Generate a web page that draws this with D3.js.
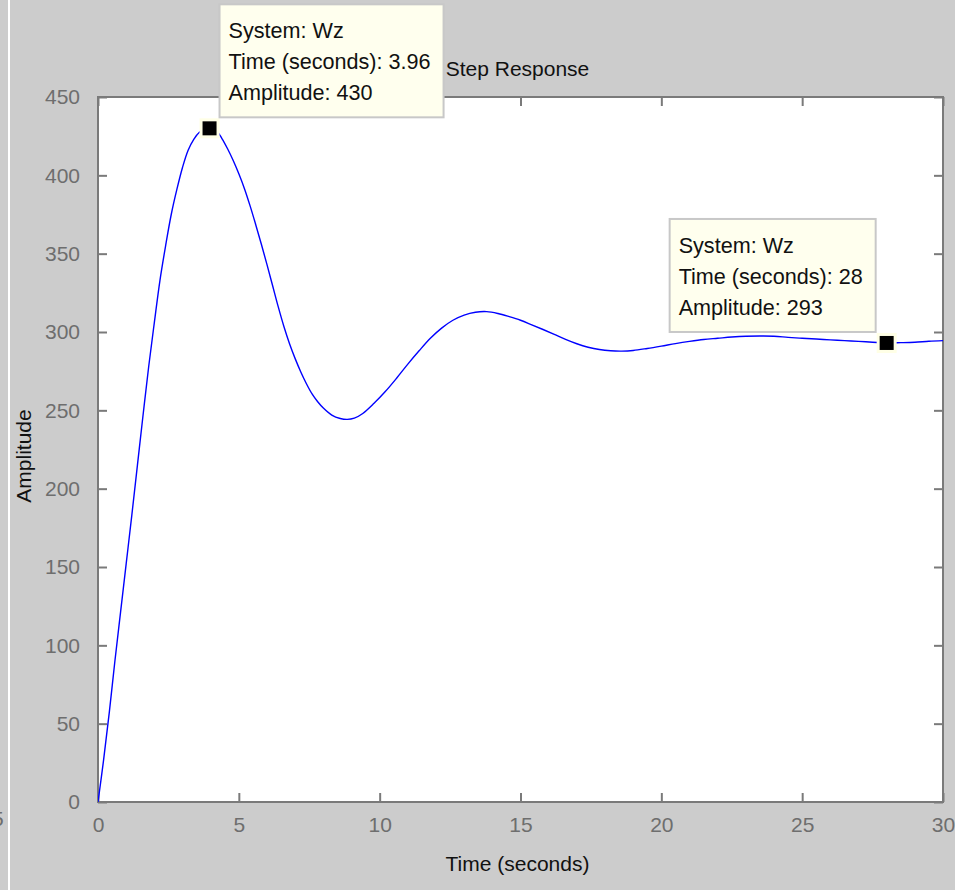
<!DOCTYPE html>
<html lang="en">
<head>
    <meta charset="UTF-8">
    <title>Step Response</title>
    <style>
        body {
            margin: 0;
            background: #cccccc;
            font-family: "Liberation Sans", Arial, sans-serif;
        }
        svg text {
            font-family: "Liberation Sans", Arial, sans-serif;
        }
    </style>
    <script src="https://d3js.org/d3.v7.min.js"></script>
</head>
<body>
    <div id="chart"></div>

    <script>
        // step response of system Wz
        const time = [0, 0.2, 0.4, 0.6, 0.8, 1.0, 1.2, 1.4, 1.6, 1.8, 2.0, 2.2, 2.4, 2.6, 2.8, 3.0,
            3.2, 3.4, 3.6, 3.8, 3.96, 4.2, 4.4, 4.6, 4.8, 5.0, 5.2, 5.4, 5.6, 5.8, 6.0, 6.2, 6.4,
            6.6, 6.8, 7.0, 7.2, 7.4, 7.6, 7.8, 8.0, 8.3, 8.6, 8.85, 9.1, 9.4, 9.8, 10.2, 10.6, 11.0,
            11.4, 11.8, 12.2, 12.6, 13.0, 13.4, 13.8, 14.2, 14.6, 15.0, 15.4, 15.8, 16.2, 16.6,
            17.0, 17.4, 17.8, 18.2, 18.6, 19.0, 19.5, 20.0, 20.5, 21.0, 21.5, 22.0, 22.5, 23.0,
            23.5, 24.0, 24.5, 25.0, 25.5, 26.0, 26.5, 27.0, 27.5, 28.0, 28.5, 29.0, 29.5, 30];
        const amplitude = [0, 27, 57, 90, 121, 152, 183, 215, 247, 278, 306, 333, 355, 375, 391, 405,
            416, 423, 427.5, 429.5, 430, 428.5, 423.5, 417, 409.5, 401, 391.5, 380.5, 368.5, 356, 343, 329.5, 316,
            303.5, 292.5, 283, 274.5, 267, 260.5, 255.5, 251.5, 247, 244.8, 244.2, 245, 248, 254.5, 262, 270.5, 279.5,
            288, 296, 302.5, 307.5, 310.8, 312.6, 313, 311.8, 309.8, 307.5, 304.6, 301.6, 298.5, 295.3,
            292.5, 290.3, 288.8, 288, 287.8, 288.2, 289.5, 291, 292.6, 294, 295.2, 296, 296.8, 297.3,
            297.4, 297.3, 296.6, 296, 295.5, 295, 294.5, 294, 293.5, 293, 293.2, 293.5, 294.1, 294.5];

        const xTicks = [0, 5, 10, 15, 20, 25, 30];
        const yTicks = [0, 50, 100, 150, 200, 250, 300, 350, 400, 450];

        // data tips shown on the figure
        const tipTimes = [3.96, 28];
        const tipAmps = [430, 293];
        const tipLabels = ["3.96", "28"];
        const tipSide = ["right", "left"];

        const W = 955, H = 890;
        const margin = {top: 97, right: 12, bottom: 88, left: 98};
        const width = W - margin.left - margin.right;
        const height = H - margin.top - margin.bottom;
        const fontSize = 21;
        const tipFont = 21.6;
        const axisColor = "#7a7a7a";
        const tickColor = "#6e6e6e";

        const svg = d3.select("#chart")
            .append("svg")
            .attr("width", W)
            .attr("height", H);

        // white stripe and clipped leftover label at the far left
        svg.append("rect").attr("x", 8).attr("y", 0).attr("width", 2).attr("height", H).attr("fill", "#ffffff");
        svg.append("text").attr("x", -8).attr("y", 826).attr("font-size", fontSize)
            .attr("fill", tickColor).text("5");

        const g = svg.append("g").attr("transform", `translate(${margin.left},${margin.top})`);

        const x = d3.scaleLinear().domain([0, 30]).range([0, width]);
        const y = d3.scaleLinear().domain([0, 450]).range([height, 0]);

        g.append("rect")
            .attr("width", width)
            .attr("height", height)
            .attr("fill", "#ffffff");

        // inward ticks on all four sides
        const tickLen = 9;
        function styleAxis(sel, showLabels) {
            sel.select(".domain").remove();
            sel.selectAll(".tick line").attr("stroke", axisColor).attr("stroke-width", 2);
            sel.selectAll(".tick text")
                .attr("fill", tickColor)
                .attr("font-size", fontSize)
                .style("display", showLabels ? null : "none");
        }

        g.append("g")
            .attr("transform", `translate(0,${height})`)
            .call(d3.axisBottom(x).tickValues(xTicks).tickSize(-tickLen).tickPadding(tickLen + 21).tickFormat(d3.format("d")))
            .call(a => styleAxis(a, true));
        g.selectAll(".tick text").attr("dy", 0);

        g.append("g")
            .call(d3.axisTop(x).tickValues(xTicks).tickSize(-tickLen))
            .call(a => styleAxis(a, false));

        g.append("g")
            .call(d3.axisLeft(y).tickValues(yTicks).tickSize(-tickLen).tickPadding(tickLen + 9).tickFormat(d3.format("d")))
            .call(a => styleAxis(a, true));

        g.append("g")
            .attr("transform", `translate(${width},0)`)
            .call(d3.axisRight(y).tickValues(yTicks).tickSize(-tickLen))
            .call(a => styleAxis(a, false));

        // box
        g.append("rect")
            .attr("width", width)
            .attr("height", height)
            .attr("fill", "none")
            .attr("stroke", axisColor)
            .attr("stroke-width", 2);

        g.append("clipPath").attr("id", "clip")
            .append("rect").attr("width", width).attr("height", height);

        const pts = time.map((t, i) => [t, amplitude[i]]);
        const line = d3.line()
            .x(d => x(d[0]))
            .y(d => y(d[1]))
            .curve(d3.curveCatmullRom.alpha(0.5));

        g.append("path")
            .datum(pts)
            .attr("clip-path", "url(#clip)")
            .attr("d", line)
            .attr("fill", "none")
            .attr("stroke", "#0000ff")
            .attr("stroke-width", 1.4);

        // labels
        svg.append("text")
            .attr("x", margin.left + width / 2 - 3)
            .attr("y", 76)
            .attr("text-anchor", "middle")
            .attr("font-size", fontSize)
            .attr("fill", "#111")
            .text("Step Response");

        svg.append("text")
            .attr("x", margin.left + width / 2 - 3)
            .attr("y", 871)
            .attr("text-anchor", "middle")
            .attr("font-size", fontSize)
            .attr("fill", "#111")
            .text("Time (seconds)");

        svg.append("text")
            .attr("transform", `translate(31,456) rotate(-90)`)
            .attr("text-anchor", "middle")
            .attr("font-size", fontSize)
            .attr("fill", "#111")
            .text("Amplitude");

        // data tips
        tipTimes.forEach((t, i) => {
            const px = margin.left + x(t);
            const py = margin.top + y(tipAmps[i]);

            svg.append("rect")
                .attr("x", px - 8.5)
                .attr("y", py - 8.5)
                .attr("width", 17)
                .attr("height", 17)
                .attr("fill", "#000")
                .attr("stroke", "#ffffe6")
                .attr("stroke-width", 3);

            const tip = svg.append("g");
            const box = tip.append("rect")
                .attr("fill", "#ffffee")
                .attr("stroke", "#c8c8c8")
                .attr("stroke-width", 2);
            const lines = ["System: Wz", "Time (seconds): " + tipLabels[i], "Amplitude: " + tipAmps[i]];
            const texts = tip.selectAll("text")
                .data(lines)
                .enter()
                .append("text")
                .attr("x", 9)
                .attr("y", (d, j) => 34 + j * 31)
                .attr("font-size", tipFont)
                .attr("fill", "#111")
                .text(d => d);

            let maxLen = 0;
            texts.each(function () { maxLen = Math.max(maxLen, this.getComputedTextLength()); });
            const bw = maxLen + 22, bh = 113;
            box.attr("width", bw).attr("height", bh);

            const left = tipSide[i] === "right" ? px + 10 : px - 11 - bw;
            const top = py - 11 - bh;
            tip.attr("transform", `translate(${left},${top})`);
        });
    </script>
</body>
</html>
